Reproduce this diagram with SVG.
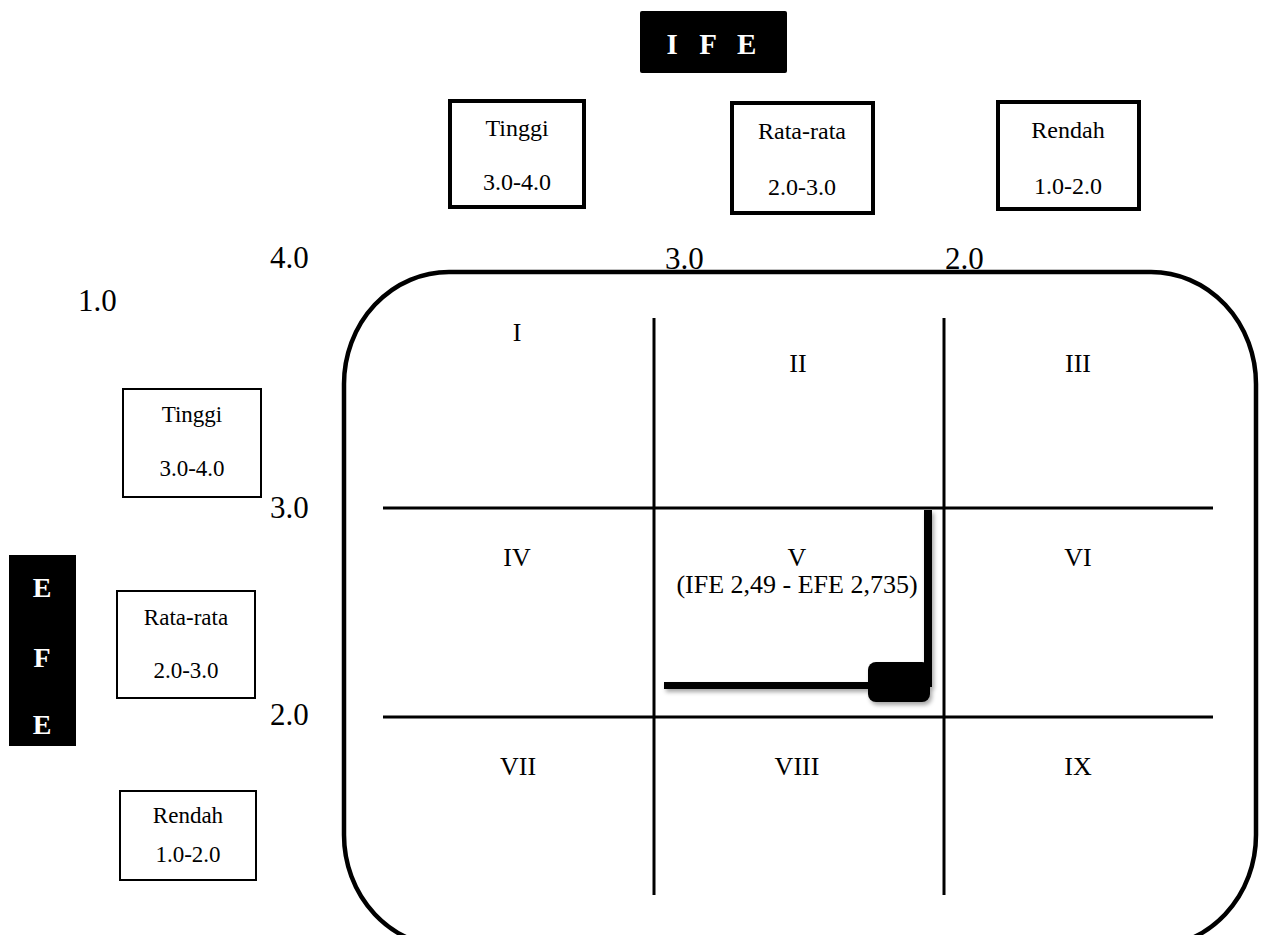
<svg xmlns="http://www.w3.org/2000/svg" width="1262" height="935" viewBox="0 0 1262 935">
<defs>
<style>
.t{font-family:"Liberation Serif","Times New Roman",serif;fill:#000}
.s{font-size:24px;text-anchor:middle}
.sl{font-size:23px;text-anchor:middle}
.r{font-size:26px;text-anchor:middle}
.a{font-size:31px}
.w{font-family:"Liberation Serif","Times New Roman",serif;font-weight:bold;fill:#fff;text-anchor:middle}
.bx{fill:#fff;stroke:#000}
.g{stroke:#000;stroke-width:3;fill:none}
</style>
<filter id="sh" x="-20%" y="-20%" width="140%" height="140%">
<feDropShadow dx="2" dy="3" stdDeviation="2" flood-color="#000" flood-opacity="0.35"/>
</filter>
</defs>
<rect width="1262" height="935" fill="#fff"/>

<g id="ife-title">
<rect x="640" y="11" width="147" height="62" rx="2" fill="#000"/>
<text class="w" x="715" y="54" font-size="29" letter-spacing="7">I F E</text>
</g>

<g id="ife-tinggi">
<rect class="bx" x="450" y="101" width="134" height="106" stroke-width="4"/>
<text class="t s" x="517" y="136">Tinggi</text>
<text class="t s" x="517" y="190">3.0-4.0</text>
</g>
<g id="ife-rata">
<rect class="bx" x="732" y="103" width="141" height="110" stroke-width="4"/>
<text class="t s" x="802" y="139">Rata-rata</text>
<text class="t s" x="802" y="195">2.0-3.0</text>
</g>
<g id="ife-rendah">
<rect class="bx" x="998" y="102" width="141" height="107" stroke-width="4"/>
<text class="t s" x="1068" y="138">Rendah</text>
<text class="t s" x="1068" y="194">1.0-2.0</text>
</g>

<g id="axis-labels">
<text class="t a" x="270" y="268">4.0</text>
<text class="t a" x="665" y="269">3.0</text>
<text class="t a" x="945" y="269">2.0</text>
<text class="t a" x="78" y="311">1.0</text>
<text class="t a" x="270" y="518">3.0</text>
<text class="t a" x="270" y="725">2.0</text>
</g>

<g id="efe-title">
<rect x="9" y="555" width="67" height="191" fill="#000"/>
<text class="w" x="42" y="597" font-size="28">E</text>
<text class="w" x="42" y="667" font-size="28">F</text>
<text class="w" x="42" y="734" font-size="28">E</text>
</g>

<g id="efe-tinggi">
<rect class="bx" x="123" y="389" width="138" height="108" stroke-width="2"/>
<text class="t sl" x="192" y="422">Tinggi</text>
<text class="t sl" x="192" y="476">3.0-4.0</text>
</g>
<g id="efe-rata">
<rect class="bx" x="117" y="591" width="138" height="107" stroke-width="2"/>
<text class="t sl" x="186" y="625">Rata-rata</text>
<text class="t sl" x="186" y="678">2.0-3.0</text>
</g>
<g id="efe-rendah">
<rect class="bx" x="120" y="791" width="136" height="89" stroke-width="2"/>
<text class="t sl" x="188" y="823">Rendah</text>
<text class="t sl" x="188" y="862">1.0-2.0</text>
</g>

<g id="matrix">
<rect x="344" y="272" width="912" height="675" rx="105" ry="112" fill="none" stroke="#000" stroke-width="4.5"/>
<g id="connectors">
<line class="g" x1="383" y1="508" x2="1213" y2="508"/>
<line class="g" x1="383" y1="717" x2="1213" y2="717"/>
<line class="g" x1="654" y1="318" x2="654" y2="895"/>
<line class="g" x1="944" y1="318" x2="944" y2="895"/>
</g>
<text class="t r" x="517" y="341">I</text>
<text class="t r" x="798" y="372">II</text>
<text class="t r" x="1078" y="372">III</text>
<text class="t r" x="517" y="566">IV</text>
<text class="t r" x="797" y="566">V</text>
<text class="t r" x="797" y="593">(IFE 2,49 - EFE 2,735)</text>
<text class="t r" x="1078" y="566">VI</text>
<text class="t r" x="518" y="775">VII</text>
<text class="t r" x="797" y="775">VIII</text>
<text class="t r" x="1078" y="775">IX</text>
</g>

<g id="position-marker" filter="url(#sh)">
<rect x="924" y="510" width="8" height="177" fill="#000"/>
<rect x="664" y="682" width="266" height="7" fill="#000"/>
<rect x="868" y="662" width="62" height="40" rx="8" fill="#000"/>
</g>
</svg>
